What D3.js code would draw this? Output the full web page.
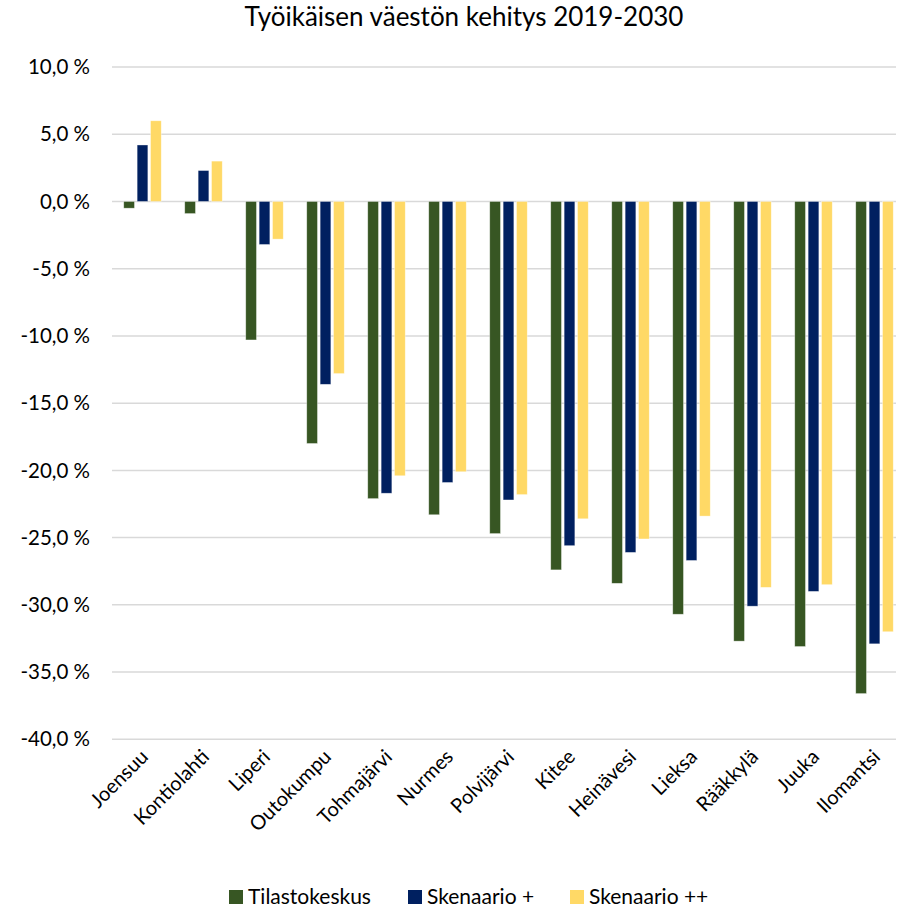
<!DOCTYPE html>
<html>
<head>
<meta charset="utf-8">
<script src="https://cdn.jsdelivr.net/npm/d3@7"></script>
<style>
  body { margin: 0; background: #fff; }
  text { font-family: Lato, "Open Sans", sans-serif; fill: #000; }
</style>
</head>
<body>
<script>
// kunnat
var categories = ['Joensuu', 'Kontiolahti', 'Liperi', 'Outokumpu', 'Tohmajärvi', 'Nurmes',
  'Polvijärvi', 'Kitee', 'Heinävesi', 'Lieksa', 'Rääkkylä', 'Juuka', 'Ilomantsi'];
var seriesNames = ['Tilastokeskus', 'Skenaario +', 'Skenaario ++'];
var tilastokeskus = [-0.5, -0.9, -10.3, -18.0, -22.1, -23.3, -24.7, -27.4, -28.4, -30.7, -32.7, -33.1, -36.6];
var skenaario1 = [4.2, 2.3, -3.2, -13.6, -21.7, -20.9, -22.2, -25.6, -26.1, -26.7, -30.1, -29.0, -32.9];
var skenaario2 = [6.0, 3.0, -2.8, -12.8, -20.4, -20.1, -21.8, -23.6, -25.1, -23.4, -28.7, -28.5, -32.0];
var yTicks = [10, 5, 0, -5, -10, -15, -20, -25, -30, -35, -40];
var colors = ['#375623', '#002060', '#FFD966'];

var allSeries = [tilastokeskus, skenaario1, skenaario2];

var svg = d3.select('body').append('svg')
    .attr('width', 898)
    .attr('height', 908);

// otsikko
svg.append('text')
    .attr('x', 464)
    .attr('y', 26)
    .attr('text-anchor', 'middle')
    .style('font-size', '26px')
    .text('Työikäisen väestön kehitys 2019-2030');

var y = d3.scaleLinear().domain([-40, 10]).range([739.3, 67]);
var x0 = d3.scaleBand().domain(categories).range([112, 905]).padding(0);
var x1 = d3.scaleBand().domain(seriesNames).range([0, 37.5]).paddingInner(0.2).paddingOuter(0);
var groupOffset = (x0.bandwidth() - 37.5) / 2;

// ruudukko
svg.selectAll('line.grid')
    .data(yTicks).enter()
    .append('line')
    .attr('class', 'grid')
    .attr('x1', 112)
    .attr('x2', 896)
    .attr('y1', function(d) { return y(d); })
    .attr('y2', function(d) { return y(d); })
    .style('stroke', '#d9d9d9')
    .attr('stroke-width', 1.5);

// y-akselin tekstit
var fmt = function(d) { return d.toFixed(1).replace('.', ',') + ' %'; };
svg.selectAll('text.ytick')
    .data(yTicks).enter()
    .append('text')
    .attr('class', 'ytick')
    .attr('x', 90)
    .attr('y', function(d) { return y(d); })
    .attr('dy', '0.35em')
    .attr('text-anchor', 'end')
    .style('font-size', '20.5px')
    .text(fmt);

// pylväät
allSeries.forEach(function(values, s) {
  svg.selectAll('rect.s' + s)
      .data(values).enter()
      .append('rect')
      .attr('class', 's' + s)
      .attr('x', function(d, i) { return x0(categories[i]) + groupOffset + x1(seriesNames[s]); })
      .attr('width', x1.bandwidth())
      .attr('y', function(d) { return y(Math.max(0, d)); })
      .attr('height', function(d) { return Math.abs(y(d) - y(0)); })
      .attr('fill', colors[s])
      .style('stroke', 'rgba(255,255,255,0.5)')
      .attr('stroke-width', 0.7);
});

// x-akselin tekstit
svg.selectAll('text.xlab')
    .data(categories).enter()
    .append('text')
    .attr('class', 'xlab')
    .attr('text-anchor', 'end')
    .style('font-size', '20px')
    .attr('transform', function(d) {
      var cx = x0(d) + x0.bandwidth() / 2 + 7;
      return 'translate(' + cx + ',758) rotate(-45)';
    })
    .text(function(d) { return d; });

// selite
var legendX = [229, 408, 570];
seriesNames.forEach(function(name, s) {
  svg.append('rect')
      .attr('x', legendX[s])
      .attr('y', 890)
      .attr('width', 14)
      .attr('height', 14)
      .attr('fill', colors[s]);
  svg.append('text')
      .attr('x', legendX[s] + 19)
      .attr('y', 904)
      .style('font-size', '21px')
      .text(name);
});
</script>
</body>
</html>
